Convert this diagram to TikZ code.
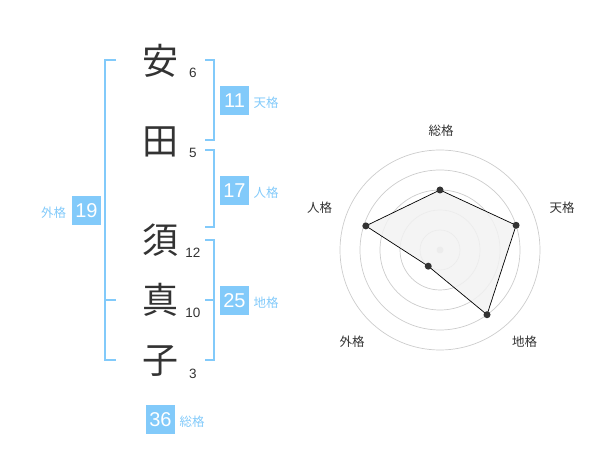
\documentclass[tikz,border=0pt]{standalone}
\usepackage{fontspec}
\setmainfont{Noto Sans CJK JP}
\newfontfamily\digitfont{Liberation Sans}
\usetikzlibrary{calc}
\definecolor{kakublue}{HTML}{82CAFA}
\definecolor{inkgray}{HTML}{333333}
\definecolor{ringgray}{HTML}{CCCCCC}
\definecolor{areagray}{HTML}{F2F2F2}
\tikzset{
  kanji/.style={inner sep=0, text=inkgray, font=\fontsize{36}{36}\selectfont},
  strokenum/.style={inner sep=0, text=inkgray, font=\digitfont\fontsize{13.5}{13.5}\selectfont},
  kakubox/.style={fill=kakublue, text=white, inner sep=0, minimum size=29pt, font=\digitfont\fontsize{20}{20}\selectfont},
  kakutext/.style={inner sep=0, text=kakublue, font=\fontsize{12.5}{12.5}\selectfont},
  bracketline/.style={draw=kakublue, line width=2pt},
  ring/.style={draw=ringgray, line width=0.7pt},
  radarlabel/.style={inner sep=0, text=inkgray, font=\fontsize{12.5}{12.5}\selectfont}
}
\begin{document}
\begin{tikzpicture}[x=1pt, y=-1pt]
\useasboundingbox (0,0) rectangle (600,470);

\node[kanji] (a) at (160, 61) {安};
\node[kanji] (b) at (160, 142) {田};
\node[kanji] (c) at (160, 240) {須};
\node[kanji] (d) at (160, 300) {真};
\node[kanji] (e) at (160, 361) {子};

\node[strokenum] (a1) at (193, 72.5) {6};
\node[strokenum] (b1) at (193, 152.5) {5};
\node[strokenum] (c1) at (193, 252.5) {12};
\node[strokenum] (d1) at (193, 312.5) {10};
\node[strokenum] (e1) at (193, 373.5) {3};

\draw[bracketline] (116, 60) -- (105, 60) -- (105, 360) -- (116, 360);
\draw[bracketline] (105, 300) -- (116, 300);

\draw[bracketline] (205, 60) -- (214, 60) -- (214, 140) -- (205, 140);
\draw[bracketline] (205, 150) -- (214, 150) -- (214, 227) -- (205, 227);
\draw[bracketline] (205, 240) -- (214, 240) -- (214, 360) -- (205, 360);
\draw[bracketline] (205, 300) -- (214, 300);

\node[kakubox] (ten) at (234.5, 100.5) {11};
\node[kakutext] (tenl) at (266, 103) {天格};
\node[kakubox] (jin) at (234.5, 190.5) {17};
\node[kakutext] (jinl) at (266, 193) {人格};
\node[kakubox] (chi) at (234.5, 300.5) {25};
\node[kakutext] (chil) at (266, 303) {地格};
\node[kakubox] (gai) at (86.5, 210.5) {19};
\node[kakutext] (gail) at (53.5, 213) {外格};
\node[kakubox] (sou) at (160.5, 419.5) {36};
\node[kakutext] (soul) at (192, 422) {総格};

\coordinate (o) at (440, 250);
\foreach \r in {20, 40, 60, 80, 100}
  \draw[ring] (o) circle (\r);
\fill[ringgray] (o) circle (3.5);

\coordinate (p1) at ($(o)+(-90:60)$);
\coordinate (p2) at ($(o)+(-18:80)$);
\coordinate (p3) at ($(o)+(54:80)$);
\coordinate (p4) at ($(o)+(126:20)$);
\coordinate (p5) at ($(o)+(198:78)$);
\draw[fill=areagray, fill opacity=0.85, draw=black, line width=0.7pt] (p1) -- (p2) -- (p3) -- (p4) -- (p5) -- cycle;
\foreach \p in {p1, p2, p3, p4, p5}
  \fill[inkgray] (\p) circle (3.5);

\node[radarlabel] (l1) at (441, 131) {総格};
\node[radarlabel] (l2) at (562, 208) {天格};
\node[radarlabel] (l3) at (524.5, 342) {地格};
\node[radarlabel] (l4) at (352, 342) {外格};
\node[radarlabel] (l5) at (319.5, 208) {人格};
\end{tikzpicture}
\end{document}
